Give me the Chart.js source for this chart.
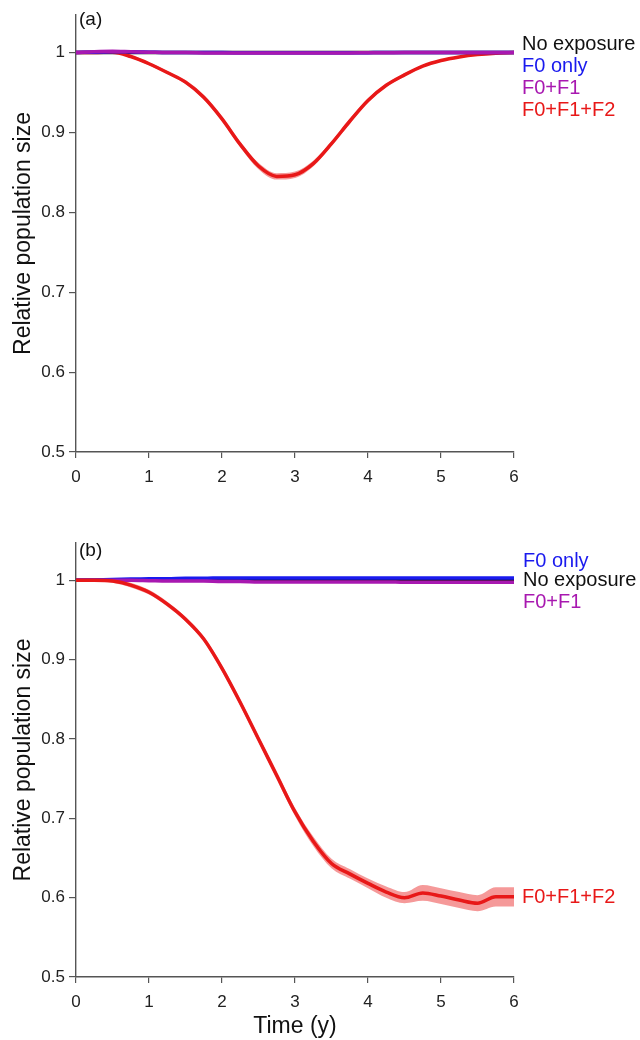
<!DOCTYPE html>
<html>
<head>
<meta charset="utf-8">
<script src="https://cdn.jsdelivr.net/npm/chart.js@4.4.1/dist/chart.umd.min.js"></script>
<style>
  html, body { margin: 0; padding: 0; background: #fff; }
  #wrap { position: relative; width: 640px; height: 1040px; overflow: hidden; font-family: "Liberation Sans", Arial, Helvetica, sans-serif; }
  canvas { position: absolute; left: 0; }
  .lab { position: absolute; font-size: 20px; line-height: 20px; white-space: nowrap; }
  .tag { position: absolute; font-size: 19px; line-height: 19px; color: #111; }
</style>
</head>
<body>
<div id="wrap">
  <canvas id="ca" width="640" height="500" style="top:0"></canvas>
  <canvas id="cb" width="640" height="540" style="top:500px"></canvas>

  <div class="tag" style="left:79px; top:9px;">(a)</div>
  <div class="lab" style="left:522px; top:33px; color:#111;">No exposure</div>
  <div class="lab" style="left:522px; top:55px; color:#1a1aee;">F0 only</div>
  <div class="lab" style="left:522px; top:77px; color:#a818b0;">F0+F1</div>
  <div class="lab" style="left:522px; top:99px; color:#e81818;">F0+F1+F2</div>

  <div class="tag" style="left:79px; top:540px;">(b)</div>
  <div class="lab" style="left:523px; top:550px; color:#1a1aee;">F0 only</div>
  <div class="lab" style="left:523px; top:569px; color:#111;">No exposure</div>
  <div class="lab" style="left:523px; top:591px; color:#a818b0;">F0+F1</div>
  <div class="lab" style="left:522px; top:886px; color:#e81818;">F0+F1+F2</div>
</div>
<script>
// ---------- DATA ----------
const times = [0,0.25,0.5,0.75,1,1.25,1.5,1.75,2,2.25,2.5,2.75,3,3.25,3.5,3.75,4,4.25,4.5,4.75,5,5.25,5.5,5.75,6];
const xTicks = [0,1,2,3,4,5,6];
const yTicks = [0.5,0.6,0.7,0.8,0.9,1];

// Panel (a)
const noExpA  = [1,1,1,1,1,1,1,1,1,1,1,1,1,1,1,1,1,1,1,1,1,1,1,1,1];
const f0A     = [1.000,1.0005,1.001,1.001,1.0005,1.000,1.000,1.000,1.000,0.9998,0.9997,0.9997,0.9998,0.9998,0.9998,0.9998,0.9999,1.000,1.000,1.000,1.000,1.000,1.000,1.000,1.000];
const f0f1A   = [1.000,1.001,1.0015,1.001,1.0005,1.000,1.000,0.9995,0.9993,0.9993,0.9993,0.9993,0.9995,0.9995,0.9995,0.9995,0.9997,0.9998,1.000,1.000,1.000,1.000,1.000,1.000,1.000];
const f0f1f2A = [1.000,1.000,1.0005,0.995,0.986,0.975,0.963,0.944,0.917,0.885,0.858,0.845,0.847,0.861,0.886,0.914,0.940,0.959,0.972,0.983,0.990,0.9945,0.9975,0.9992,1.000];
const f0f1f2AHigh = [1.000,1.0005,1.0015,0.9965,0.988,0.977,0.9655,0.947,0.920,0.8885,0.862,0.849,0.851,0.8645,0.889,0.917,0.9425,0.961,0.974,0.9845,0.9915,0.9955,0.9985,1.0002,1.001];
const f0f1f2ALow  = [1.000,0.9995,0.9995,0.9935,0.984,0.973,0.9605,0.941,0.914,0.8815,0.854,0.841,0.843,0.8575,0.883,0.911,0.9375,0.957,0.970,0.9815,0.9885,0.9935,0.9965,0.9982,0.999];

// Panel (b)
const noExpB  = [1,1,1,1,1,1,1,1,1,1,1,1,1,1,1,1,1,1,1,1,1,1,1,1,1];
const f0B     = [1.000,1.0005,1.001,1.0015,1.002,1.002,1.0025,1.0025,1.003,1.003,1.003,1.003,1.003,1.003,1.003,1.003,1.003,1.003,1.003,1.003,1.003,1.003,1.003,1.003,1.003];
const f0f1B   = [1.000,1.000,1.000,1.000,0.9995,0.999,0.999,0.999,0.9985,0.9985,0.998,0.998,0.998,0.998,0.998,0.998,0.998,0.998,0.9975,0.9975,0.9975,0.9975,0.9975,0.9975,0.9975];
const f0f1f2B = [1.000,1.000,0.999,0.994,0.985,0.970,0.951,0.926,0.889,0.846,0.800,0.754,0.708,0.671,0.643,0.630,0.618,0.607,0.600,0.606,0.602,0.597,0.593,0.601,0.601];
const f0f1f2BHigh = [1.000,1.001,1.001,0.997,0.988,0.973,0.954,0.929,0.893,0.850,0.804,0.759,0.713,0.677,0.649,0.636,0.624,0.614,0.607,0.616,0.612,0.607,0.603,0.613,0.613];
const f0f1f2BLow  = [1.000,0.999,0.997,0.991,0.982,0.967,0.948,0.923,0.885,0.842,0.796,0.749,0.703,0.665,0.637,0.624,0.612,0.600,0.593,0.596,0.592,0.587,0.583,0.589,0.589];

// ---------- STYLE ----------
const FONT = '"Liberation Sans", Arial, Helvetica, sans-serif';
const C_BLACK = '#111111', C_BLUE = '#1a1aee', C_MAG = '#a818b0', C_RED = '#e81818';
const C_BAND = 'rgba(236,70,70,0.55)';
const AXIS = '#555555';

function pts(ys) { return times.map((t, i) => ({ x: t, y: ys[i] })); }

function line(data, color, order) {
  return { data: pts(data), borderColor: color, borderWidth: 3.5, pointRadius: 0,
           fill: false, cubicInterpolationMode: 'monotone', order: order };
}

function makeChart(id, sets, pad, xAxisH, showXTitle) {
  const ds = [
    { data: pts(sets.high), borderWidth: 0, pointRadius: 0, backgroundColor: C_BAND,
      fill: '+1', cubicInterpolationMode: 'monotone', order: 20 },
    { data: pts(sets.low), borderWidth: 0, pointRadius: 0, fill: false,
      cubicInterpolationMode: 'monotone', order: 21 },
    line(sets.noExp, C_BLACK, 10),
    line(sets.red, C_RED, sets.redOrder),
    line(sets.blue, C_BLUE, 8),
    line(sets.mag, C_MAG, 7)
  ];
  return new Chart(document.getElementById(id), {
    type: 'line',
    data: { datasets: ds },
    options: {
      responsive: false, animation: false, devicePixelRatio: 1,
      layout: { padding: pad },
      plugins: { legend: { display: false }, tooltip: { enabled: false } },
      scales: {
        x: {
          type: 'linear', min: 0, max: 6,
          afterBuildTicks: s => { s.ticks = xTicks.map(v => ({ value: v })); },
          afterFit: s => { s.height = xAxisH; },
          grid: { display: true, drawOnChartArea: false, drawTicks: true, tickLength: 6, color: AXIS, lineWidth: 1.2 },
          border: { display: true, color: AXIS, width: 1.4 },
          ticks: { padding: 9, color: '#222', font: { family: FONT, size: 17 }, maxRotation: 0,
                   callback: v => String(v) },
          title: { display: showXTitle, text: 'Time (y)', color: '#111',
                   font: { family: FONT, size: 23 }, padding: { top: 0, bottom: 0 } }
        },
        y: {
          type: 'linear', min: 0.5, max: 1.047,
          afterBuildTicks: s => { s.ticks = yTicks.map(v => ({ value: v })); },
          afterFit: s => { s.width = 76; },
          grid: { display: true, drawOnChartArea: false, drawTicks: true, tickLength: 7, color: AXIS, lineWidth: 1.2 },
          border: { display: true, color: AXIS, width: 1.4 },
          ticks: { padding: 4, color: '#222', font: { family: FONT, size: 17 },
                   callback: v => String(Math.round(v * 10) / 10) },
          title: { display: true, text: 'Relative population size', color: '#111',
                   font: { family: FONT, size: 23 }, padding: { top: 10, bottom: 0 } }
        }
      }
    }
  });
}

makeChart('ca', { high: f0f1f2AHigh, low: f0f1f2ALow, noExp: noExpA, red: f0f1f2A, redOrder: 9, blue: f0A, mag: f0f1A },
          { left: 0, right: 126, top: 15, bottom: 0 }, 48, false);
makeChart('cb', { high: f0f1f2BHigh, low: f0f1f2BLow, noExp: noExpB, red: f0f1f2B, redOrder: 6, blue: f0B, mag: f0f1B },
          { left: 0, right: 126, top: 43, bottom: 0 }, 63, true);
</script>
</body>
</html>
